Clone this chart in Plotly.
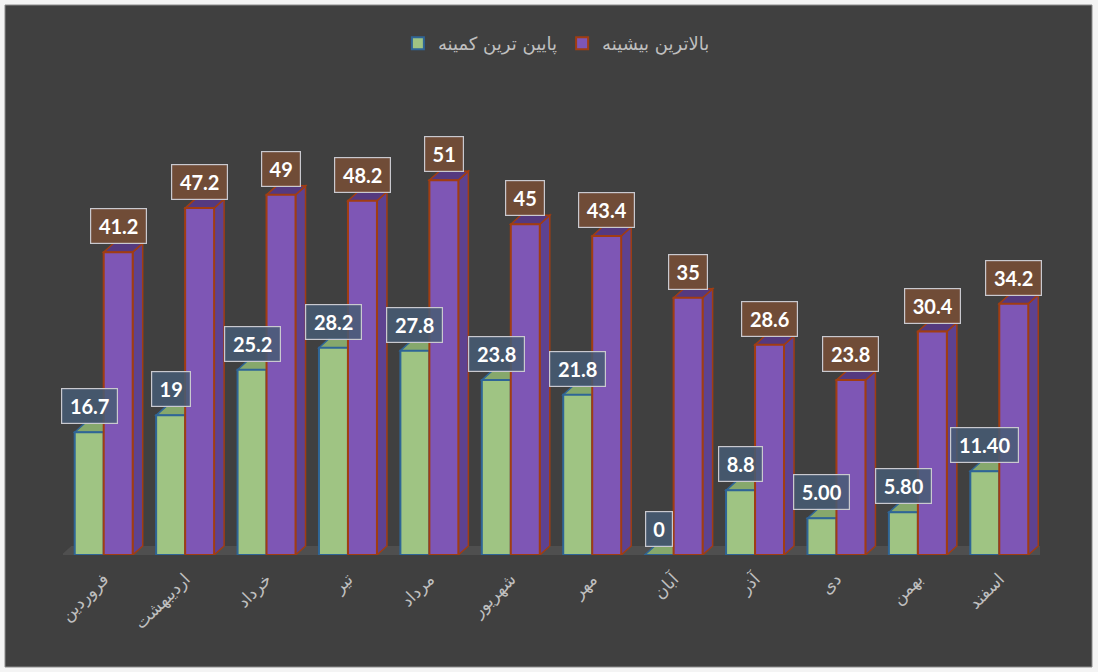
import plotly.graph_objects as go

months = ['فروردین', 'اردیبهشت', 'خرداد', 'تیر', 'مرداد', 'شهریور',
          'مهر', 'آبان', 'آذر', 'دی', 'بهمن', 'اسفند']
low_vals = [16.7, 19, 25.2, 28.2, 27.8, 23.8, 21.8, 0, 8.8, 5.0, 5.8, 11.4]
low_text = ['16.7', '19', '25.2', '28.2', '27.8', '23.8', '21.8', '0', '8.8', '5.00', '5.80', '11.40']
high_vals = [41.2, 47.2, 49, 48.2, 51, 45, 43.4, 35, 28.6, 23.8, 30.4, 34.2]
high_text = ['41.2', '47.2', '49', '48.2', '51', '45', '43.4', '35', '28.6', '23.8', '30.4', '34.2']
low_name = 'پایین ترین کمینه'
high_name = 'بالاترین بیشینه'

W, H = 1098, 672
ML, MR, MT, MB = 63, 58, 114, 117
YMAX = 60
pw = W - ML - MR
ph = H - MT - MB
n = len(months)
px_per_cat = pw / n
px_per_unit = ph / YMAX

BARGAP = 0.288
bw = (1 - BARGAP) / 2
DX = 10 / px_per_cat
DY = 9 / px_per_unit

BG = '#404040'
GREEN = '#9fc483'
GREEN_LINE = '#2f6596'
GREEN_SIDE = '#7b9e63'
GREEN_TOP = '#86a86c'
PURPLE = '#7e56b5'
PURPLE_LINE = '#a13d12'
PURPLE_SIDE = '#5e4290'
PURPLE_TOP = '#55397f'

fig = go.Figure()
fig.add_trace(go.Bar(x=months, y=low_vals, name=low_name,
                     marker=dict(color=GREEN, line=dict(color=GREEN_LINE, width=2))))
fig.add_trace(go.Bar(x=months, y=high_vals, name=high_name,
                     marker=dict(color=PURPLE, line=dict(color=PURPLE_LINE, width=2))))

shapes = []
# outer frame
shapes.append(dict(type='rect', xref='paper', yref='paper', layer='below',
                   x0=(5 - ML) / pw, x1=(1092 - ML) / pw,
                   y0=(MT + ph - 667) / ph, y1=(MT + ph - 5) / ph,
                   fillcolor=BG, line=dict(color='#8c8c8c', width=1)))
# floor
fx0, fx1 = -0.52, n - 0.5 + 0.01
shapes.append(dict(type='path', xref='x', yref='y', layer='below',
                   path=f'M {fx0} 0 L {fx0 + DX} {DY} L {fx1 + DX} {DY} L {fx1} 0 Z',
                   fillcolor='#4f4f4f', line=dict(width=0)))

def faces(left, right, v, side, top, line):
    out = []
    out.append(dict(type='path', xref='x', yref='y', layer='below',
                    path=f'M {right} 0 L {right + DX} {DY} L {right + DX} {v + DY} L {right} {v} Z',
                    fillcolor=side, line=dict(color=line, width=1.5)))
    out.append(dict(type='path', xref='x', yref='y', layer='below',
                    path=f'M {left} {v} L {left + DX} {v + DY} L {right + DX} {v + DY} L {right} {v} Z',
                    fillcolor=top, line=dict(color=line, width=1.5)))
    return out

for i in range(n):
    shapes += faces(i - bw, i, low_vals[i], GREEN_SIDE, GREEN_TOP, GREEN_LINE)
    shapes += faces(i, i + bw, high_vals[i], PURPLE_SIDE, PURPLE_TOP, PURPLE_LINE)

def box_width(t):
    nd = sum(c.isdigit() for c in t)
    npd = t.count('.')
    return 12 * nd + 5 * npd + 4

annotations = []
for i in range(n):
    for vals, texts, off, bg in ((low_vals, low_text, -bw / 2, 'rgba(71,92,116,0.85)'),
                                 (high_vals, high_text, bw / 2, 'rgba(118,77,53,0.88)')):
        annotations.append(dict(x=i + off, y=vals[i], xref='x', yref='y', text=texts[i],
                                showarrow=False, yanchor='bottom', xanchor='center', yshift=8,
                                font=dict(family='Lato', size=20, color='white', weight='bold'),
                                bgcolor=bg, bordercolor='#c9c9cf', borderwidth=1.2, borderpad=5,
                                width=box_width(texts[i]), height=24))

fig.update_layout(
    width=W, height=H,
    margin=dict(l=ML, r=MR, t=MT, b=MB, autoexpand=False),
    paper_bgcolor='#f4f4f4',
    plot_bgcolor='rgba(0,0,0,0)',
    barmode='group', bargap=BARGAP, bargroupgap=0,
    shapes=shapes, annotations=annotations,
    showlegend=True,
    legend=dict(orientation='h', x=0.505, xanchor='center', y=1.16, yanchor='middle',
                font=dict(family='DejaVu Sans', size=18, color='#bfbfbf'),
                bgcolor='rgba(0,0,0,0)', itemclick=False, traceorder='normal'),
    xaxis=dict(range=[-0.5, n - 0.5], autorange=False,
               showgrid=False, zeroline=False, showline=False, tickangle=-45,
               ticks='', ticklabelstandoff=10, automargin=False,
               tickfont=dict(family='DejaVu Sans', size=17, color='#bfbfbf')),
    yaxis=dict(range=[0, YMAX], autorange=False, visible=False, showgrid=False, automargin=False),
)

fig.write_html('out.html', config={'displayModeBar': False},
               post_script="document.body.style.margin='0px';")
